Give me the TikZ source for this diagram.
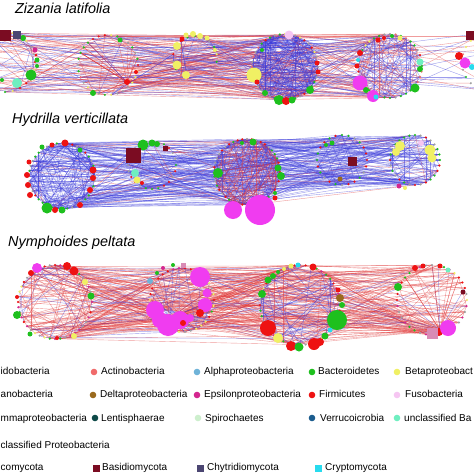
\documentclass[tikz,border=0pt]{standalone}
\usepackage{fontspec}
\setmainfont{Liberation Sans}
\definecolor{eR}{HTML}{E23A3A}
\definecolor{eB}{HTML}{3B3BDB}
\definecolor{cAct}{HTML}{F06B6B}
\definecolor{cAlp}{HTML}{6FB3D8}
\definecolor{cBac}{HTML}{1EC01E}
\definecolor{cBet}{HTML}{F0F064}
\definecolor{cDel}{HTML}{9A6A1E}
\definecolor{cEps}{HTML}{D4268F}
\definecolor{cFir}{HTML}{EE1212}
\definecolor{cFus}{HTML}{F6C6F2}
\definecolor{cLen}{HTML}{0E4A48}
\definecolor{cSpi}{HTML}{CDEFCD}
\definecolor{cVer}{HTML}{1B5C8E}
\definecolor{cUnB}{HTML}{6FEFC0}
\definecolor{cBas}{HTML}{7B0C22}
\definecolor{cChy}{HTML}{4B4672}
\definecolor{cCry}{HTML}{27DBEE}
\definecolor{cMag}{HTML}{F03CF0}
\definecolor{cPnk}{HTML}{D98BB5}
\definecolor{cGry}{HTML}{A0A0A0}
\tikzset{
 redge/.style={draw=eR, line width=0.4pt, draw opacity=0.5},
 bedge/.style={draw=eB, line width=0.4pt, draw opacity=0.5},
 bn/.style={circle, fill=#1, draw=none, inner sep=0pt},
 sq/.style={rectangle, fill=#1, draw=none, inner sep=0pt},
 ttl/.style={font=\fontsize{14.4}{16}\selectfont\itshape, anchor=base west, inner sep=0pt},
 lg/.style={font=\fontsize{10}{12}\selectfont, anchor=base west, inner sep=0pt},
 lm/.style={circle, fill=#1, minimum size=6.6pt, inner sep=0pt},
 ls/.style={rectangle, fill=#1, minimum size=7pt, inner sep=0pt},
}
% ring of n named points: name cx cy r n
\newcommand\mkring[5]{\foreach \i in {1,...,#5}{\coordinate (#1-\i) at ({#2+#4*cos(360*\i/#5)},{#3+#4*sin(360*\i/#5)});}}
% arc of n points: name cx cy r n a0 a1
\newcommand\mkarc[7]{\foreach \i in {1,...,#5}{\coordinate (#1-\i) at ({#2+#4*cos(#6+(#7-#6)*(\i-1)/(#5-1))},{#3+#4*sin(#6+(#7-#6)*(\i-1)/(#5-1))});}}
% random links: A nA B nB count pRed
\newcommand\links[6]{\foreach \k in {1,...,#5}{%
  \pgfmathrandominteger{\ea}{1}{#2}%
  \pgfmathrandominteger{\eb}{1}{#4}%
  \pgfmathtruncatemacro{\ec}{rnd<#6}%
  \ifnum\ec=1\relax\draw[redge] (#1-\ea) -- (#3-\eb);\else\draw[bedge] (#1-\ea) -- (#3-\eb);\fi}}
% small dots on ring: name n list
\newcommand\ringdots[3]{\foreach \i in {1,...,#2}{\pgfmathrandomitem{\dc}{#3}\fill[fill=\dc] (#1-\i) circle (1.2pt);}}
\pgfmathdeclarerandomlist{mixA}{{cBac}{cFir}{cGry}{cGry}{cBet}{cAct}{cBac}}
\pgfmathdeclarerandomlist{mixB}{{cFir}{cFir}{cBac}{cGry}{cGry}{cBac}}
\pgfmathdeclarerandomlist{mixC}{{cFir}{cBac}{cGry}{cGry}{cFir}{cBet}{cEps}}
\begin{document}
\begin{tikzpicture}[x=1pt,y=-1pt]
\useasboundingbox (0,0) rectangle (474,474);
\clip (0,0) rectangle (474,474);
\fill[white] (0,0) rectangle (474,474);
\pgfmathsetseed{11}
% ---------------- Row 1: Zizania latifolia
\mkring{Z1}{5}{62}{30}{24}
\mkring{Z2}{108}{65}{30}{30}
\mkarc{Z3}{195}{58}{22}{14}{110}{370}
\mkring{Z4}{285}{67}{33}{40}
\mkring{Z5}{390}{66}{32}{36}
\mkring{Z6}{492}{62}{30}{24}
\coordinate (Z2h-1) at (127,82);
\links{Z1}{24}{Z2}{30}{30}{0.55}
\links{Z1}{24}{Z4}{30}{25}{0.5}
\links{Z2}{30}{Z4}{40}{40}{0.7}
\links{Z2h}{1}{Z4}{40}{20}{0.8}
\links{Z3}{14}{Z4}{40}{25}{0.4}
\links{Z2}{30}{Z5}{36}{30}{0.65}
\links{Z4}{40}{Z5}{36}{50}{0.5}
\links{Z1}{24}{Z5}{36}{20}{0.5}
\links{Z5}{36}{Z6}{24}{12}{0.5}
\links{Z1}{24}{Z6}{24}{8}{0.3}
\links{Z2}{30}{Z3}{14}{15}{0.6}
\links{Z3}{14}{Z5}{36}{15}{0.5}
\links{Z1}{24}{Z1}{24}{30}{0.35}
\links{Z2h}{1}{Z2}{30}{30}{0.9}
\links{Z2}{30}{Z2}{30}{10}{0.5}
\links{Z3}{14}{Z3}{14}{15}{0.2}
\links{Z4}{40}{Z4}{40}{230}{0.1}
\links{Z5}{36}{Z5}{36}{100}{0.3}
\ringdots{Z1}{24}{mixA}\ringdots{Z2}{30}{mixA}\ringdots{Z3}{14}{mixA}
\ringdots{Z4}{40}{mixA}\ringdots{Z5}{36}{mixA}\ringdots{Z6}{24}{mixA}
\foreach [count=\j] \cl/\x/\y/\r in {cBac/23/38/3, cEps/35/50/2.5, cFir/36/55/1.5, cBac/37/60/2.5, cBac/37/66/2,
  cBac/31/75/5.5, cUnB/17/83/5, cBac/2/80/2,
  cBac/120/40/2.5, cFir/127/82/3, cBac/93/93/3, cFir/136/72/2,
  cBet/177/46/4, cFir/182/39/2.5, cBet/186/35/2.5, cBet/193/34/3, cBet/200/36/3, cBet/207/38/2.5, cBet/215/50/2,
  cBet/177/65/4.5, cBet/186/75/4,
  cFus/289/35/4.5, cBet/254/75/7.5, cBac/265/93/3, cBac/279/100/5, cFir/286/101/4, cBac/292/100/3.5,
  cBac/310/90/4, cFir/317/63/2.5, cFir/318/72/2.5, cBac/262/50/2, cFir/257/82/2.5,
  cFir/360/53/3, cCry/358/60/2, cFir/357/66/2.5, cMag/360/83/7.5, cBac/366/90/3, cMag/373/96/6, cCry/376/97/2.5,
  cBac/415/88/4.5, cUnB/420/62/3.5, cBac/420/69/3, cFir/378/40/2.5, cBet/400/38/2.5, cBac/392/36/2, cFir/384/38/2,
  cFir/459/56/4, cMag/465/63/5.5, cCry/472/67/3}
  \node[bn=\cl, minimum size=\r*2pt] (Zb-\j) at (\x,\y) {};
\node[sq=cBas, minimum size=11pt] (Zs-1) at (5,35) {};
\node[sq=cChy, minimum size=8pt] (Zs-2) at (17,35) {};
\node[sq=cBas, minimum size=9pt] (Zs-3) at (470,35) {};
\node[ttl] (T1) at (15,13.5) {Zizania latifolia};
% ---------------- Row 2: Hydrilla verticillata
\mkring{H1}{62}{176}{33}{40}
\mkring{H2}{152}{165}{24}{24}
\mkring{H3}{247}{172}{33}{44}
\mkring{H4}{342}{160}{25}{24}
\mkring{H5}{415}{160}{25}{28}
\links{H1}{40}{H3}{44}{60}{0.08}
\links{H1}{40}{H5}{28}{50}{0.04}
\links{H3}{44}{H5}{28}{40}{0.05}
\links{H1}{40}{H4}{24}{25}{0.05}
\links{H3}{44}{H4}{24}{30}{0.1}
\links{H2}{24}{H3}{44}{20}{0.3}
\links{H1}{40}{H2}{24}{15}{0.1}
\links{H4}{24}{H5}{28}{20}{0.05}
\links{H2}{24}{H5}{28}{15}{0.05}
\links{H1}{40}{H1}{40}{150}{0.06}
\links{H2}{24}{H2}{24}{20}{0.15}
\links{H3}{44}{H3}{44}{210}{0.45}
\links{H4}{24}{H4}{24}{25}{0.05}
\links{H5}{28}{H5}{28}{55}{0.05}
\ringdots{H1}{40}{mixB}\ringdots{H2}{24}{mixB}\ringdots{H3}{44}{mixB}
\ringdots{H4}{24}{mixB}\ringdots{H5}{28}{mixB}
\foreach [count=\j] \cl/\x/\y/\r in {cBac/42/147/2.5, cFir/65/143/3.5, cFir/52/145/2.5, cFir/27/175/3, cFir/29/162/2.5,
  cFir/28/185/3, cFir/30/195/3, cBac/47/208/5.5, cBac/62/210/3.5, cFir/55/210/3, cFir/80/205/3, cFir/90/190/3,
  cFir/93/170/3.5, cFir/93/178/3, cBac/80/150/2.5,
  cBac/143/145/5.5, cBac/152/143/3.5, cBac/157/144/3, cUnB/135/173/4, cBet/137/180/3.5, cFir/142/183/2,
  cBac/253/142/3.5, cBac/242/143/2, cBac/218/173/5, cBac/278/168/3.5, cBac/281/176/4, cFir/275/198/2.5,
  cBac/275/193/2, cMag/233/210/9, cMag/260/210/15,
  cBac/332/143/2.5, cBac/326/145/2, cDel/340/179/2.5,
  cBet/400/146/5, cBet/396/152/4, cBet/430/150/5.5, cBet/432/158/4.5, cFus/421/143/3, cEps/399/186/2.5, cBet/405/188/2}
  \node[bn=\cl, minimum size=\r*2pt] (Hb-\j) at (\x,\y) {};
\node[sq=cBas, minimum size=15pt] (Hs-1) at (133,155) {};
\node[sq=cBas, minimum size=5pt] (Hs-2) at (165,148) {};
\node[sq=cBas, minimum size=9pt] (Hs-3) at (352,161) {};
\node[ttl] (T2) at (12,123.5) {Hydrilla verticillata};
% ---------------- Row 3: Nymphoides peltata
\mkring{N1}{55}{302}{37}{44}
\mkring{N2}{182}{300}{32}{34}
\mkring{N3}{300}{305}{40}{44}
\mkring{N4}{432}{300}{35}{36}
\coordinate (N2h-1) at (170,318);
\coordinate (N4h-1) at (440,330);
\links{N1}{44}{N2}{34}{80}{0.85}
\links{N1}{44}{N3}{44}{45}{0.9}
\links{N2}{34}{N3}{44}{65}{0.8}
\links{N2h}{1}{N3}{44}{25}{0.9}
\links{N2h}{1}{N1}{44}{25}{0.85}
\links{N3}{44}{N4}{36}{60}{0.85}
\links{N3}{44}{N4h}{1}{25}{0.9}
\links{N2}{34}{N4}{36}{40}{0.9}
\links{N1}{44}{N4}{36}{20}{0.9}
\links{N1}{44}{N1}{44}{80}{0.75}
\links{N2}{34}{N2}{34}{25}{0.3}
\links{N2h}{1}{N2}{34}{25}{0.4}
\links{N3}{44}{N3}{44}{75}{0.3}
\links{N4h}{1}{N4}{36}{30}{0.8}
\links{N4}{36}{N4}{36}{10}{0.8}
\ringdots{N1}{44}{mixC}\ringdots{N2}{34}{mixC}\ringdots{N3}{44}{mixC}\ringdots{N4}{36}{mixC}
\foreach [count=\j] \cl/\x/\y/\r in {cMag/37/268/5, cFir/31/273/3, cFir/67/266/4, cFir/74/271/4.5, cBet/85/282/3,
  cBac/91/296/3.5, cBac/17/315/4, cFir/17/297/2, cBac/30/334/2.5, cBet/74/336/3, cFir/57/338/2,
  cMag/200/277/10, cMag/155/310/9, cMag/168/325/11, cMag/180/320/9, cMag/160/320/8, cMag/205/305/7, cMag/207/293/4.5,
  cFir/200/313/4, cFir/183/323/3, cAlp/150/281/3, cBac/173/265/2, cEps/163/268/2, cBac/157/273/2, cMag/190/318/4,
  cBac/337/320/10, cFir/268/328/8, cBet/278/338/5, cFir/291/346/5, cBac/299/347/4.5, cFir/314/344/6, cFir/320/342/4,
  cBac/325/336/3.5, cCry/330/330/2.5, cBac/262/294/4, cBac/268/280/3.5, cBac/273/276/3, cBac/278/272/2,
  cBet/291/266/2.5, cCry/298/265/2.5, cFir/313/267/3.5, cDel/340/298/4, cFir/338/290/2.5, cBac/342/305/3,
  cBet/284/269/2,
  cFir/439/332/4, cMag/448/328/8, cBac/398/287/4, cFir/415/268/3, cFir/423/266/2.5, cFir/440/266/2.5,
  cUnB/448/270/2.5, cBas/463/292/2.5}
  \node[bn=\cl, minimum size=\r*2pt] (Nb-\j) at (\x,\y) {};
\node[sq=cPnk, minimum size=5pt] (Ns-1) at (183,265) {};
\node[sq=cPnk, minimum size=11pt] (Ns-2) at (432,333) {};
\node[ttl] (T3) at (8,246) {Nymphoides peltata};
% ---------------- Legend
\node[lg] (L1a) at (0.5,374.5) {idobacteria};
\node[lm=cAct] (M1b) at (94,372) {};  \node[lg] (L1b) at (101,374.5) {Actinobacteria};
\node[lm=cAlp] (M1c) at (197,372) {}; \node[lg] (L1c) at (204,374.5) {Alphaproteobacteria};
\node[lm=cBac] (M1d) at (312,372) {}; \node[lg] (L1d) at (318,374.5) {Bacteroidetes};
\node[lm=cBet] (M1e) at (397,372) {}; \node[lg] (L1e) at (405,374.5) {Betaproteobact};
\node[lg] (L2a) at (0.5,397.5) {anobacteria};
\node[lm=cDel] (M2b) at (93,395) {};  \node[lg] (L2b) at (100,397.5) {Deltaproteobacteria};
\node[lm=cEps] (M2c) at (197,395) {}; \node[lg] (L2c) at (204,397.5) {Epsilonproteobacteria};
\node[lm=cFir] (M2d) at (312,395) {}; \node[lg] (L2d) at (319,397.5) {Firmicutes};
\node[lm=cFus] (M2e) at (397,395) {}; \node[lg] (L2e) at (405,397.5) {Fusobacteria};
\node[lg] (L3a) at (0.5,421) {mmaproteobacteria};
\node[lm=cLen] (M3b) at (95,418) {};  \node[lg] (L3b) at (101,421) {Lentisphaerae};
\node[lm=cSpi] (M3c) at (198,418) {}; \node[lg] (L3c) at (205,421) {Spirochaetes};
\node[lm=cVer] (M3d) at (312,418) {}; \node[lg] (L3d) at (320,421) {Verrucoicrobia};
\node[lm=cUnB] (M3e) at (397,418) {}; \node[lg] (L3e) at (404,421) {unclassified Ba};
\node[lg] (L4a) at (0.5,448) {classified Proteobacteria};
\node[lg] (L5a) at (0.5,470.5) {comycota};
\node[ls=cBas] (M5b) at (96,468) {};  \node[lg] (L5b) at (102,470.5) {Basidiomycota};
\node[ls=cChy] (M5c) at (200,468) {}; \node[lg] (L5c) at (207,470.5) {Chytridiomycota};
\node[ls=cCry] (M5d) at (318,468) {}; \node[lg] (L5d) at (325,470.5) {Cryptomycota};
\end{tikzpicture}
\end{document}
